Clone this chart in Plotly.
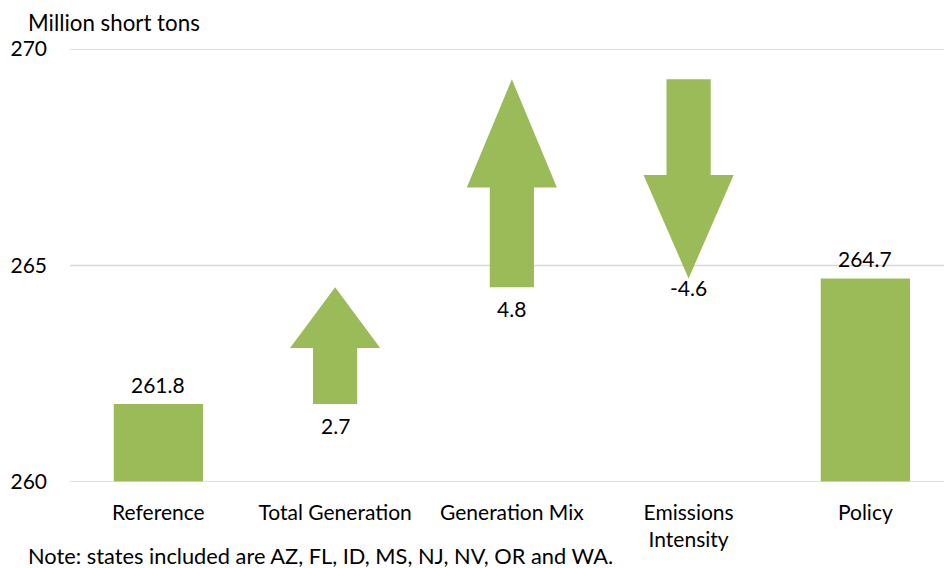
import plotly.graph_objects as go

# Decomposition of the change in CO2 emissions (million short tons)
categories = ["Reference", "Total Generation", "Generation Mix", "Emissions<br>Intensity", "Policy"]
reference_value = 261.8
change_values = [2.7, 4.8, -4.6]
policy_value = 264.7
y_ticks = [260, 265, 270]
note_text = "Note: states included are AZ, FL, ID, MS, NJ, NV, OR and WA."

GREEN = "#9BBB59"
FONT = "Lato"
FS = 21
AXIS_MIN = 260
AXIS_MAX = 270

L, R, T, B, W, H = 70, 0, 49, 86, 944, 568

fig = go.Figure()

# End bars (reference and policy totals)
bar_x = [0, 4]
bar_vals = [reference_value, policy_value]
fig.add_trace(go.Bar(
    x=bar_x, y=[v - AXIS_MIN for v in bar_vals], base=AXIS_MIN,
    width=0.505, marker=dict(color=GREEN, line=dict(width=0)),
    hoverinfo="skip", showlegend=False,
))
for xb, v in zip(bar_x, bar_vals):
    fig.add_annotation(
        x=xb, y=v, text=f"{v:.1f}", showarrow=False, yanchor="middle",
        yshift=20, font=dict(family=FONT, size=FS, color="#000000"),
    )

# Arrows for each contributing change
shaft_half = 0.125
head_half = 0.255
level = reference_value
for i, delta in enumerate(change_values):
    xc = i + 1
    start = level
    end = level + delta
    head_len = 0.52 * abs(delta)
    sign = 1 if delta > 0 else -1
    neck = end - sign * head_len
    xs = [xc - shaft_half, xc - shaft_half, xc - head_half, xc, xc + head_half,
          xc + shaft_half, xc + shaft_half, xc - shaft_half]
    ys = [start, neck, neck, end, neck, neck, start, start]
    fig.add_trace(go.Scatter(
        x=xs, y=ys, mode="lines", fill="toself", fillcolor=GREEN,
        line=dict(width=0, color=GREEN), hoverinfo="skip", showlegend=False,
    ))
    low = min(start, end)
    fig.add_annotation(
        x=xc, y=low, text=f"{delta:.1f}", showarrow=False, yanchor="middle",
        yshift=-21 if delta > 0 else -9,
        font=dict(family=FONT, size=FS, color="#000000"),
    )
    level = end


def px_to_paper(px, py):
    return (px - L) / (W - L - R), (H - B - py) / (H - T - B)


for px, py, txt, size in [(26, 22, "Million short tons", 22.3), (26, 555, note_text, 21.8)]:
    ax, ay = px_to_paper(px, py)
    fig.add_annotation(
        x=ax, y=ay, xref="paper", yref="paper", text=txt,
        showarrow=False, xanchor="left", yanchor="middle",
        font=dict(family=FONT, size=size, color="#000000"),
    )

# Horizontal gridlines at each tick value
for v in y_ticks:
    fig.add_shape(
        type="line", xref="paper", yref="y", x0=0, x1=1, y0=v, y1=v,
        line=dict(color="#D9D9D9", width=1.5), layer="above" if v == AXIS_MIN else "below",
    )

fig.update_layout(
    width=W, height=H, margin=dict(l=L, r=R, t=T, b=B),
    plot_bgcolor="white", paper_bgcolor="white",
    font=dict(family=FONT, size=FS, color="#000000"),
    xaxis=dict(
        range=[-0.5, 4.445], tickvals=list(range(len(categories))), ticktext=categories,
        showgrid=False, zeroline=False, showline=False, ticks="",
        tickfont=dict(family=FONT, size=FS, color="#000000"), ticklabelstandoff=16,
    ),
    yaxis=dict(
        range=[AXIS_MIN, AXIS_MAX], tickvals=y_ticks, showgrid=False,
        zeroline=False, showline=False, ticks="",
        tickfont=dict(family=FONT, size=FS, color="#000000"), ticklabelstandoff=22,
    ),
)

fig.write_html("out.html")
